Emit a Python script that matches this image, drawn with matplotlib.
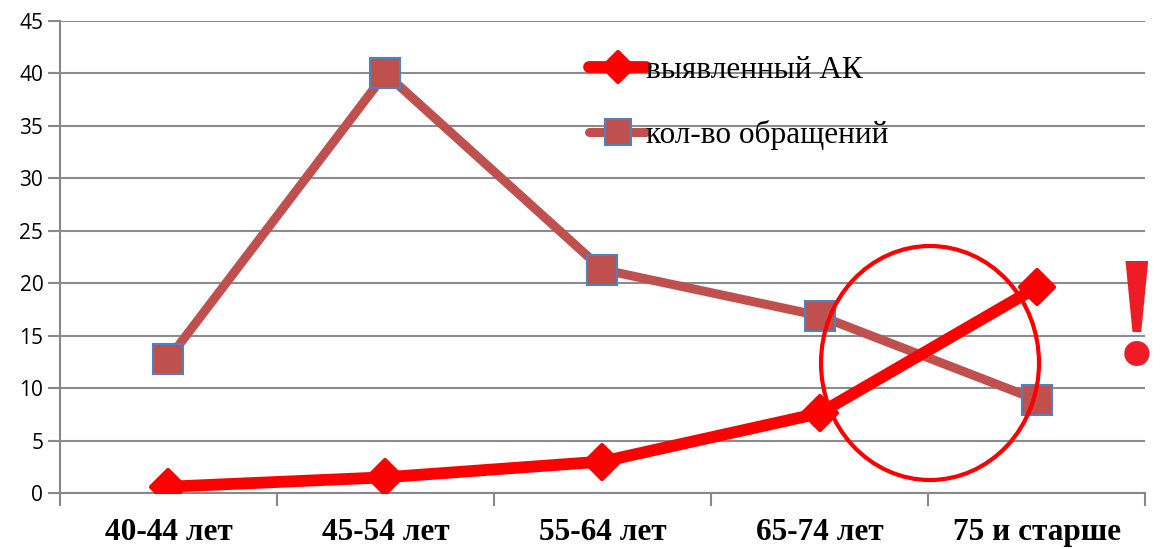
import matplotlib.pyplot as plt
from matplotlib.markers import MarkerStyle
from matplotlib.patches import Ellipse

categories = ["40-44 лет", "45-54 лет", "55-64 лет", "65-74 лет", "75 и старше"]
detected = [0.6, 1.5, 3.0, 7.6, 19.6]
visits = [12.8, 40.0, 21.3, 16.9, 8.9]

fig = plt.figure(figsize=(11.62, 5.49), dpi=100)
ax = fig.add_axes([0.0516, 0.102, 0.9338, 0.8597])

x = list(range(len(categories)))

ax.plot(x, detected, color="#FF0000", lw=8.5, solid_capstyle="round",
        marker=MarkerStyle("D", joinstyle="round"), markersize=17,
        markeredgecolor="#FF0000", markeredgewidth=3, zorder=4,
        label="выявленный АК")
ax.plot(x, visits, color="#C0504D", lw=6.5, solid_capstyle="round",
        marker="s", markersize=21, markerfacecolor="#C0504D",
        markeredgecolor="#4F81BD", markeredgewidth=1.5, zorder=3,
        label="кол-во обращений")

ax.set_xlim(-0.5, 4.5)
ax.set_ylim(0, 45)
ax.set_yticks(range(0, 46, 5))
ax.set_xticks(x)
ax.set_xticklabels(categories, fontfamily="Liberation Serif",
                   fontweight="bold", fontsize=22.5)
ax.set_xticks([i + 0.5 for i in range(-1, 5)], minor=True)
ax.tick_params(axis="x", which="major", length=0, pad=18)
ax.tick_params(axis="x", which="minor", length=9, color="#888888", width=1.5)
ax.tick_params(axis="y", length=9, color="#888888", width=1.5, pad=3)
for lab in ax.get_yticklabels():
    lab.set_fontfamily("Open Sans")
    lab.set_fontsize(15)

ax.grid(axis="y", color="#8C8C8C", lw=1.5, zorder=0)
for s in ["top", "right"]:
    ax.spines[s].set_visible(False)
for s in ["left", "bottom"]:
    ax.spines[s].set_color("#888888")
    ax.spines[s].set_linewidth(1.5)
ax.spines["left"].set_bounds(0, 45)

leg = ax.legend(loc="upper left", bbox_to_anchor=(0.462, 0.985), frameon=False,
                prop={"family": "Liberation Serif", "size": 22.5},
                handlelength=1.8, handletextpad=0.0, labelspacing=1.1,
                markerscale=0.9)

circle = Ellipse((930 / 1162, 1 - 363 / 549), 218 / 1162, 234 / 549,
                 transform=fig.transFigure, fill=False, edgecolor="#FF0000",
                 lw=3, zorder=5)
fig.add_artist(circle)

fig.text(1137 / 1162, 1 - 326 / 549, "!", color="#EE1C25",
         fontsize=112, fontweight="bold", fontfamily="Liberation Serif",
         ha="center", va="center")

fig.savefig("out.png", dpi=100)
